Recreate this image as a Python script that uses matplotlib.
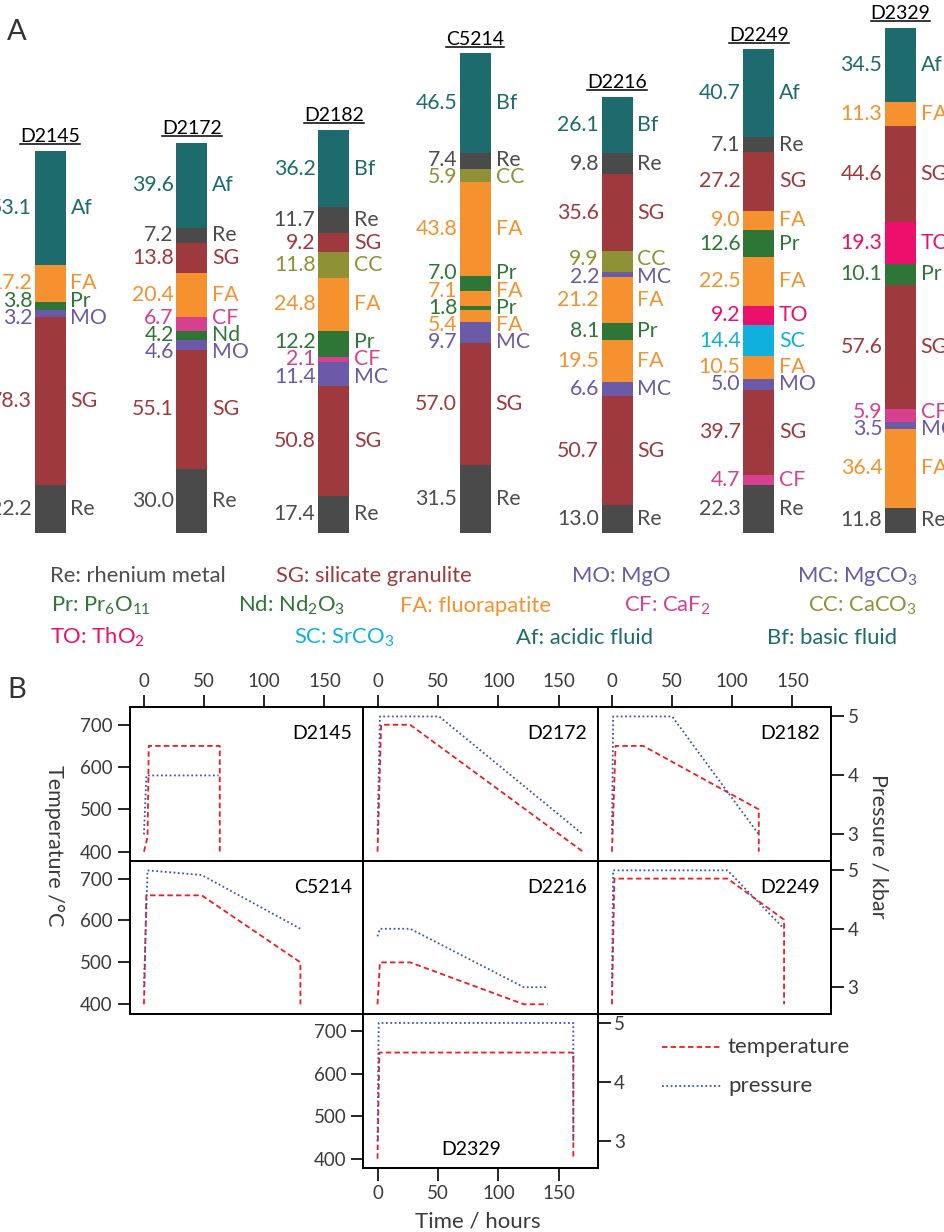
import matplotlib
matplotlib.use('Agg')
import matplotlib.pyplot as plt
from matplotlib.lines import Line2D
from matplotlib.transforms import IdentityTransform

plt.rcParams['font.family'] = ['Lato', 'DejaVu Sans']
plt.rcParams['mathtext.default'] = 'regular'

W, H = 944, 1232

# ---- panel A data: layers listed top to bottom, thickness as labelled
samples = ['D2145', 'D2172', 'D2182', 'C5214', 'D2216', 'D2249', 'D2329']

d2145_layers = ['Af', 'FA', 'Pr', 'MO', 'SG', 'Re']
d2145_sizes = [53.1, 17.2, 3.8, 3.2, 78.3, 22.2]
d2172_layers = ['Af', 'Re', 'SG', 'FA', 'CF', 'Nd', 'MO', 'SG', 'Re']
d2172_sizes = [39.6, 7.2, 13.8, 20.4, 6.7, 4.2, 4.6, 55.1, 30.0]
d2182_layers = ['Bf', 'Re', 'SG', 'CC', 'FA', 'Pr', 'CF', 'MC', 'SG', 'Re']
d2182_sizes = [36.2, 11.7, 9.2, 11.8, 24.8, 12.2, 2.1, 11.4, 50.8, 17.4]
c5214_layers = ['Bf', 'Re', 'CC', 'FA', 'Pr', 'FA', 'Pr', 'FA', 'MC', 'SG', 'Re']
c5214_sizes = [46.5, 7.4, 5.9, 43.8, 7.0, 7.1, 1.8, 5.4, 9.7, 57.0, 31.5]
d2216_layers = ['Bf', 'Re', 'SG', 'CC', 'MC', 'FA', 'Pr', 'FA', 'MC', 'SG', 'Re']
d2216_sizes = [26.1, 9.8, 35.6, 9.9, 2.2, 21.2, 8.1, 19.5, 6.6, 50.7, 13.0]
d2249_layers = ['Af', 'Re', 'SG', 'FA', 'Pr', 'FA', 'TO', 'SC', 'FA', 'MO', 'SG', 'CF', 'Re']
d2249_sizes = [40.7, 7.1, 27.2, 9.0, 12.6, 22.5, 9.2, 14.4, 10.5, 5.0, 39.7, 4.7, 22.3]
d2329_layers = ['Af', 'FA', 'SG', 'TO', 'Pr', 'SG', 'CF', 'MC', 'FA', 'Re']
d2329_sizes = [34.5, 11.3, 44.6, 19.3, 10.1, 57.6, 5.9, 3.5, 36.4, 11.8]

stacks = [
    (d2145_layers, d2145_sizes), (d2172_layers, d2172_sizes),
    (d2182_layers, d2182_sizes), (c5214_layers, c5214_sizes),
    (d2216_layers, d2216_sizes), (d2249_layers, d2249_sizes),
    (d2329_layers, d2329_sizes),
]

colors = {
    'Re': '#4a4a4a', 'SG': '#9e3a3d', 'MO': '#6a5aa7', 'MC': '#6a5aa7',
    'Pr': '#2e7636', 'Nd': '#2e7636', 'FA': '#f5922f', 'CF': '#d6408f',
    'CC': '#8f9136', 'TO': '#ec0f6b', 'SC': '#0fb0de', 'Af': '#1e6b6e',
    'Bf': '#1e6b6e',
}

legend_rows = [
    [('Re', 'Re: rhenium metal'), ('SG', 'SG: silicate granulite'),
     ('MO', 'MO: MgO'), ('MC', 'MC: MgCO$_3$')],
    [('Pr', 'Pr: Pr$_6$O$_{11}$'), ('Nd', 'Nd: Nd$_2$O$_3$'),
     ('FA', 'FA: fluorapatite'), ('CF', 'CF: CaF$_2$'), ('CC', 'CC: CaCO$_3$')],
    [('TO', 'TO: ThO$_2$'), ('SC', 'SC: SrCO$_3$'),
     ('Af', 'Af: acidic fluid'), ('Bf', 'Bf: basic fluid')],
]
legend_x = [[50, 276, 572, 797], [51, 238, 400, 624, 808], [50, 294, 516, 767]]
legend_base = [582, 612, 644]

# ---- panel B data: time (h), temperature (C), pressure (kbar)
runs = ['D2145', 'D2172', 'D2182', 'C5214', 'D2216', 'D2249', 'D2329']
temp_t = [[0, 3, 4, 63, 63], [0, 3, 27, 170], [0, 3, 26, 122, 122],
          [0, 2, 48, 130, 130], [0, 2, 27, 121, 141], [0, 2, 96, 143, 143],
          [0, 1.5, 162, 162]]
temp_c = [[400, 435, 650, 650, 400], [400, 700, 700, 400],
          [400, 650, 650, 500, 400], [400, 660, 660, 500, 400],
          [400, 500, 500, 400, 400], [400, 700, 700, 602, 400],
          [400, 650, 650, 400]]
pres_t = [[0, 2, 62], [0, 2, 51, 170], [0, 1, 50, 122], [0, 3, 48, 130],
          [0, 2, 27, 121, 141], [0, 1, 96, 143], [0, 1, 162, 162]]
pres_kbar = [[3.0, 4.0, 4.0], [3, 5, 5, 3], [3, 5, 5, 3], [3.0, 5.0, 4.92, 4.0],
             [3.87, 4.0, 4.0, 3.0, 3.0], [3, 5, 5, 4], [3, 5, 5, 3]]
grid_pos = [(0, 0), (0, 1), (0, 2), (1, 0), (1, 1), (1, 2), (2, 1)]

TXT = '#3a3a3a'
fig = plt.figure(figsize=(W / 100, H / 100), dpi=100)


def fbox(x0, y0, x1, y1):
    return [x0 / W, 1 - y1 / H, (x1 - x0) / W, (y1 - y0) / H]


def spread(targets, gap):
    # push overlapping labels apart, keeping their stacking order
    pos = list(targets)
    for _ in range(300):
        for i in range(len(pos) - 1):
            d = pos[i + 1] - pos[i]
            if d < gap:
                s = (gap - d) / 2
                pos[i] -= s
                pos[i + 1] += s
    return pos


# ================= panel A =================
scale = 2.15      # px per unit
bottom_px = 533
pitch = 141.7
axA = fig.add_axes(fbox(0, 0, W, bottom_px))
axA.set_xlim(-50.3 / pitch, (W - 50.3) / pitch)
axA.set_ylim(0, bottom_px / scale)
axA.axis('off')
bw = 31 / pitch
gap_x = 2.7 / pitch

titles = []
for i, (name, (layers, sizes)) in enumerate(zip(samples, stacks)):
    lay = layers[::-1]
    siz = sizes[::-1]
    base = 0
    mids = []
    for m, s in zip(lay, siz):
        axA.bar(i, s, bottom=base, width=bw, color=colors[m], linewidth=0)
        mids.append(base + s / 2)
        base += s
    ys = spread(mids, 17.2 / scale)
    for m, s, y in zip(lay, siz, ys):
        c = '#4d4d4d' if m == 'Re' else colors[m]
        axA.text(i - bw / 2 - gap_x, y, f'{s:.1f}', ha='right', va='center',
                 fontsize=15.3, color=c)
        axA.text(i + bw / 2 + 4.7 / pitch, y, m, ha='left', va='center',
                 fontsize=15.3, color=c)
    t = axA.text(i, base + 8.8 / scale, name, ha='center', va='baseline',
                 fontsize=14, color='black')
    titles.append((t, i, base + 8.8 / scale))

for row, xs, yb in zip(legend_rows, legend_x, legend_base):
    for (key, lab), x in zip(row, xs):
        fig.text(x / W, 1 - yb / H, lab, ha='left', va='baseline',
                 fontsize=15.8, color='#4d4d4d' if key == 'Re' else colors[key])

fig.text(17 / W, 1 - 32 / H, 'A', fontsize=21, color='#333333',
         ha='center', va='center')
fig.text(17 / W, 1 - 690 / H, 'B', fontsize=21, color='#333333',
         ha='center', va='center')

# ================= panel B =================
col_x = [129.5, 363, 597.5, 831]
row_y = [707, 861, 1013.5, 1168]
red = '#ee1d23'
blue = '#3d55b5'

for k, name in enumerate(runs):
    r, c = grid_pos[k]
    ax = fig.add_axes(fbox(col_x[c], row_y[r], col_x[c + 1], row_y[r + 1]))
    ax2 = ax.twinx()
    ax.plot(temp_t[k], temp_c[k], color=red, lw=1.3, linestyle=(0, (3, 1.8)))
    ax2.plot(pres_t[k], pres_kbar[k], color=blue, lw=1.3, linestyle=(0, (1, 1.4)))
    ax.set_xlim(-12, 182)
    ax.set_ylim(378, 742)
    ax2.set_ylim(2.55, 5.16)
    ax.set_xticks([0, 50, 100, 150])
    ax.set_yticks([400, 500, 600, 700])
    ax2.set_yticks([3, 4, 5])
    for a in (ax, ax2):
        a.tick_params(direction='out', length=9, width=1.2, color='black',
                      labelcolor=TXT, labelsize=13.5, pad=3)
        for sp in a.spines.values():
            sp.set_linewidth(1.3)
    if r == 0:
        ax.xaxis.set_ticks_position('top')
        ax.tick_params(labeltop=True, labelbottom=False)
    elif r == 2:
        ax.tick_params(top=False, labeltop=False)
    else:
        ax.tick_params(bottom=False, labelbottom=False, top=False, labeltop=False)
    if not (c == 0 or r == 2):
        ax.tick_params(left=False, labelleft=False)
    if not (c == 2 or r == 2):
        ax2.tick_params(right=False, labelright=False)
    if r == 2:
        ax.text(0.46, 0.117, name, transform=ax.transAxes, ha='center',
                va='center', fontsize=14, color='black')
    else:
        ax.text(0.955, 0.825, name, transform=ax.transAxes, ha='right',
                va='center', fontsize=14, color='black')

fig.text(54 / W, 1 - 846 / H, 'Temperature /°C', rotation=270, ha='center',
         va='center', fontsize=15.5, color=TXT)
fig.text(878 / W, 1 - 846 / H, 'Pressure / kbar', rotation=270, ha='center',
         va='center', fontsize=15.5, color=TXT)
fig.text(478 / W, 1 - 1221 / H, 'Time / hours', ha='center', va='center',
         fontsize=16, color=TXT)

# legend for panel B
for y, col, ls, lab in [(1047, red, (0, (3, 1.8)), 'temperature'),
                        (1086, blue, (0, (1, 1.4)), 'pressure')]:
    fig.add_artist(Line2D([662 / W, 722 / W], [1 - y / H, 1 - y / H], color=col,
                          lw=1.3, linestyle=ls, transform=fig.transFigure))
    fig.text(728 / W, 1 - y / H, lab, ha='left', va='center', fontsize=16,
             color=TXT)

# underline sample names in panel A
fig.canvas.draw()
for t, i, yb in titles:
    bb = t.get_window_extent()
    ybase = axA.transData.transform((i, yb))[1]
    fig.add_artist(Line2D([bb.x0, bb.x1], [ybase - 2, ybase - 2], color='black',
                          lw=1.1, transform=IdentityTransform()))

fig.savefig('out.png', dpi=100)
